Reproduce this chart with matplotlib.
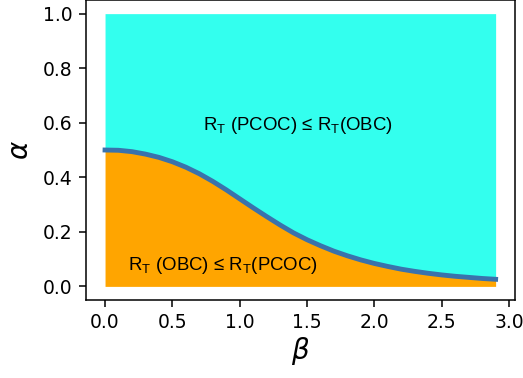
import matplotlib
import matplotlib.pyplot as plt

matplotlib.use('Agg')

# boundary curve
beta = [0.0, 0.1, 0.2, 0.3, 0.4, 0.5, 0.6, 0.7, 0.8, 0.9,
        1.0, 1.1, 1.2, 1.3, 1.4, 1.5, 1.6, 1.7, 1.8, 1.9,
        2.0, 2.1, 2.2, 2.3, 2.4, 2.5, 2.6, 2.7, 2.8, 2.9]
alpha = [0.500, 0.499, 0.494, 0.485, 0.473, 0.457, 0.437, 0.413, 0.385, 0.354,
         0.321, 0.288, 0.256, 0.225, 0.196, 0.171, 0.149, 0.129, 0.112, 0.097,
         0.084, 0.073, 0.063, 0.055, 0.048, 0.042, 0.037, 0.033, 0.029, 0.026]

upper_label = r'R$_\mathregular{T}$ (PCOC) ≤ R$_\mathregular{T}$(OBC)'
lower_label = r'R$_\mathregular{T}$ (OBC) ≤ R$_\mathregular{T}$(PCOC)'

plt.rcParams['mathtext.fontset'] = 'custom'
plt.rcParams['mathtext.rm'] = 'Liberation Sans'
plt.rcParams['mathtext.it'] = 'DejaVu Sans:italic'
plt.rcParams['mathtext.bf'] = 'DejaVu Sans:bold'

fig = plt.figure(figsize=(5.23, 3.78), dpi=100)
ax = fig.add_axes([0.1635, 0.2063, 0.8215, 0.7937])

ax.fill_between(beta, alpha, 1.0, color='#33ffee', linewidth=0)
ax.fill_between(beta, 0.0, alpha, color='orange', linewidth=0)
ax.plot(beta, alpha, color='#3a72ac', linewidth=3.5)

ax.text(0.73, 0.59, upper_label, fontsize=13.4, family='Liberation Sans', va='center')
ax.text(0.17, 0.077, lower_label, fontsize=13.4, family='Liberation Sans', va='center')

ax.set_xlabel(r'$\beta$', fontsize=20, labelpad=2)
ax.set_ylabel(r'$\alpha$', fontsize=20, labelpad=6)
ax.tick_params(labelsize=13.5, length=5, width=1.1, pad=4.5)
for s in ax.spines.values():
    s.set_linewidth(1.1)

plt.savefig('out.png', dpi=100)
